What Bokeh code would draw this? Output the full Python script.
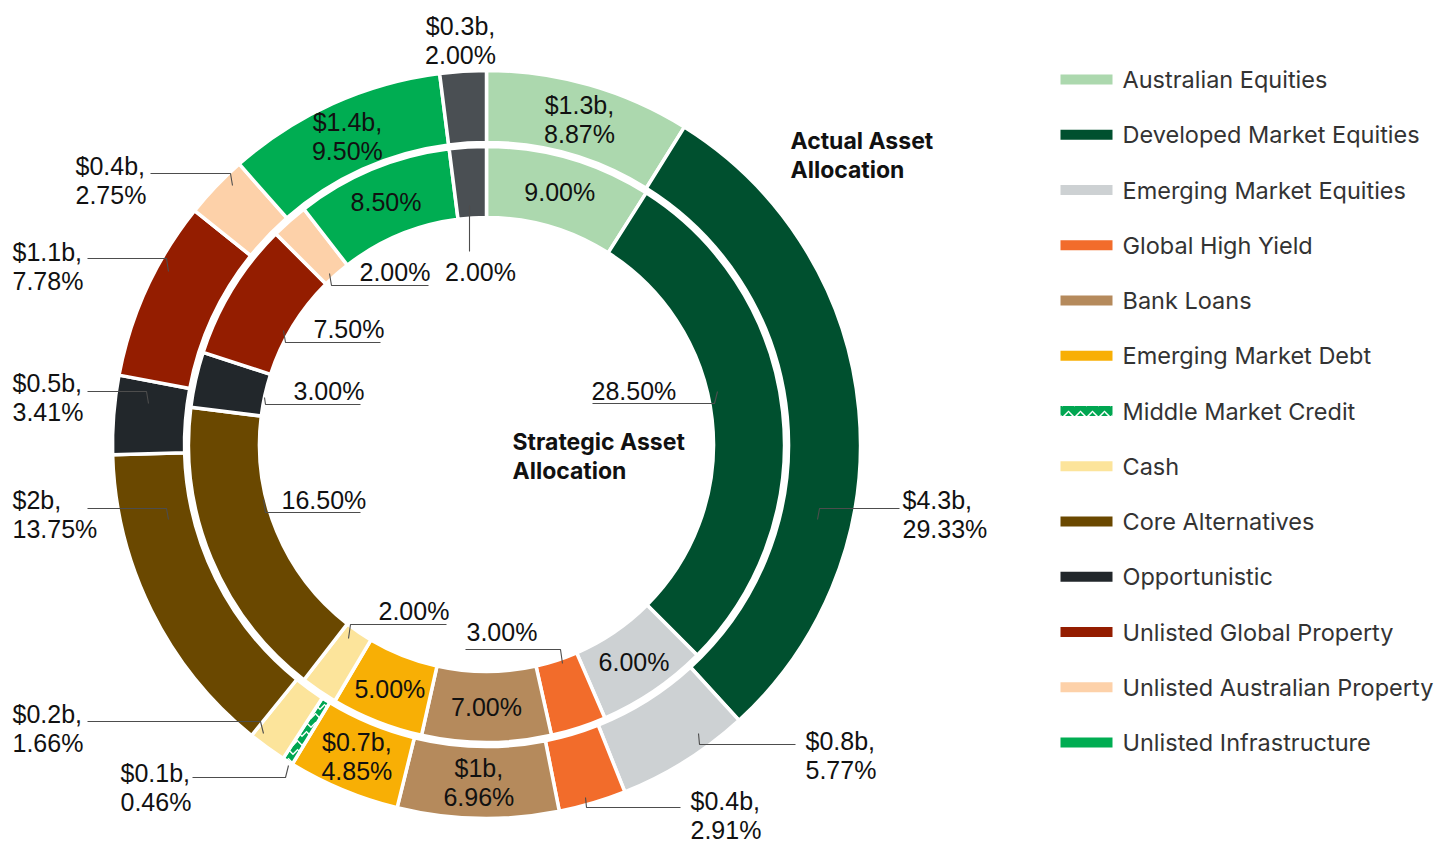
import math
from bokeh.plotting import figure
from bokeh.models import Range1d, ColumnDataSource
from bokeh.embed import file_html
from bokeh.resources import INLINE
from bokeh.core.properties import value

# ---------------- data ----------------
categories = ["Australian Equities", "Developed Market Equities", "Emerging Market Equities",
              "Global High Yield", "Bank Loans", "Emerging Market Debt", "Middle Market Credit",
              "Cash", "Core Alternatives", "Opportunistic", "Unlisted Global Property",
              "Unlisted Australian Property", "Unlisted Infrastructure", "Other"]
actual_pct = [8.87, 29.33, 5.77, 2.91, 6.96, 4.85, 0.46, 1.66, 13.75, 3.41, 7.78, 2.75, 9.50, 2.00]
actual_amt = ["$1.3b", "$4.3b", "$0.8b", "$0.4b", "$1b", "$0.7b", "$0.1b", "$0.2b", "$2b",
              "$0.5b", "$1.1b", "$0.4b", "$1.4b", "$0.3b"]
strategic_pct = [9.00, 28.50, 6.00, 3.00, 7.00, 5.00, 0.00, 2.00, 16.50, 3.00, 7.50, 2.00, 8.50, 2.00]
legend_items = categories[:13]

# ---------------- style ----------------
colors = ["#acd8ae", "#00502f", "#cdd1d3", "#f26c2b", "#b58a5c", "#f8af05", "#00a651",
          "#fce49b", "#6a4800", "#22272b", "#941d00", "#fdd1a9", "#00ad52", "#4a4f53"]
hatches = [" "] * 14
hatches[6] = "v"

W, H = 1454, 843
CX, CY = 486, 444
R_OUT = (302, 374)
R_IN = (227, 298)
LABEL_FONT = "Liberation Sans"
LABEL_SIZE = "25px"
LABEL_LH = 1.04
UI_FONT = "Inter"

def Y(py):
    return H - py

p = figure(width=W, height=H, output_backend="svg", toolbar_location=None,
           x_range=Range1d(0, W), y_range=Range1d(0, H), min_border=0)
p.axis.visible = False
p.grid.visible = False
p.outline_line_color = None
p.background_fill_color = "white"
p.border_fill_color = "white"

def ring_source(vals):
    cum = 0.0
    d = dict(start=[], end=[], color=[], hatch=[], idx=[])
    for i, v in enumerate(vals):
        a0 = math.pi / 2 - 2 * math.pi * cum / 100
        cum += v
        a1 = math.pi / 2 - 2 * math.pi * cum / 100
        if v <= 0:
            continue
        d["start"].append(a0); d["end"].append(a1)
        d["color"].append(colors[i]); d["hatch"].append(hatches[i])
        d["idx"].append(i)
    return d

for vals, (r0, r1) in ((actual_pct, R_OUT), (strategic_pct, R_IN)):
    src = ColumnDataSource(ring_source(vals))
    p.annular_wedge(x=CX, y=Y(CY), inner_radius=r0, outer_radius=r1,
                    start_angle="start", end_angle="end", direction="clock",
                    fill_color="color", line_color="white", line_width=3.5,
                    hatch_pattern="hatch", hatch_color="white", hatch_scale=9,
                    hatch_weight=1.5, source=src)

# ---------------- inside labels ----------------
inside_actual = [0, 4, 5, 12]
inside_strategic = [0, 2, 4, 5, 12]

def mid_angle(vals, i):
    cum = sum(vals[:i]) + vals[i] / 2
    return math.pi / 2 - 2 * math.pi * cum / 100

ix, iy, it = [], [], []
for i in inside_actual:
    a = mid_angle(actual_pct, i)
    r = sum(R_OUT) / 2
    ix.append(CX + r * math.cos(a)); iy.append(Y(CY) + r * math.sin(a))
    it.append(f"{actual_amt[i]},\n{actual_pct[i]:.2f}%")
for i in inside_strategic:
    a = mid_angle(strategic_pct, i)
    r = sum(R_IN) / 2
    ix.append(CX + r * math.cos(a)); iy.append(Y(CY) + r * math.sin(a))
    it.append(f"{strategic_pct[i]:.2f}%")
p.text(x=ix, y=iy, text=it, text_align="center", text_baseline="middle",
       text_font=value(LABEL_FONT), text_font_size=LABEL_SIZE, text_color="#111111",
       text_line_height=LABEL_LH)

# ---------------- outside labels with leaders (layout, pixel coords) ----------------
out_actual = {
    13: (460, 40, "center", []),
    1: (902, 514, "left", [(817, 519), (819, 508), (899, 508)]),
    2: (805, 755, "left", [(698, 733), (699, 744), (795, 744)]),
    3: (690, 815, "left", [(585, 797), (586, 807), (680, 807)]),
    6: (120, 787, "left", [(288, 765), (285, 777), (192, 777)]),
    7: (12, 728, "left", [(263, 733), (260, 721), (87, 721)]),
    8: (12, 514, "left", [(168, 519), (166, 508), (87, 508)]),
    9: (12, 397, "left", [(148, 403), (146, 391), (87, 391)]),
    10: (12, 266, "left", [(168, 271), (166, 258), (87, 258)]),
    11: (75, 180, "left", [(232, 185), (230, 173), (150, 173)]),
}
out_strategic = {
    1: (591, 390, "left", [(717, 391), (714, 403), (592, 403)]),
    3: (466, 631, "left", [(562, 663), (560, 649), (465, 649)]),
    7: (378, 610, "left", [(348, 638), (350, 624), (446, 624)]),
    8: (281, 499, "left", [(263, 499), (265, 512), (360, 512)]),
    9: (293, 390, "left", [(264, 397), (265, 404), (360, 404)]),
    10: (313, 328, "left", [(283, 330), (285, 342), (380, 342)]),
    11: (359, 271, "left", [(329, 273), (331, 285), (428, 285)]),
    13: (480, 271, "center", [(469, 205), (469, 251)]),
}

lx, ly = [], []
for spec_map in (out_actual, out_strategic):
    for k, (tx, ty, al, pts) in spec_map.items():
        if pts:
            lx.append([q[0] for q in pts]); ly.append([Y(q[1]) for q in pts])
p.multi_line(xs=lx, ys=ly, line_color="#4d4d4d", line_width=1.1)

for spec_map, is_actual in ((out_actual, True), (out_strategic, False)):
    for k, (tx, ty, al, pts) in spec_map.items():
        if is_actual:
            t = f"{actual_amt[k]},\n{actual_pct[k]:.2f}%"
        else:
            t = f"{strategic_pct[k]:.2f}%"
        p.text(x=[tx], y=[Y(ty)], text=[t], text_align=al, text_baseline="middle",
               text_font=value(LABEL_FONT), text_font_size=LABEL_SIZE, text_color="#111111",
               text_line_height=LABEL_LH)

# ---------------- ring titles ----------------
p.text(x=[790, 512], y=[Y(155), Y(456)],
       text=["Actual Asset\nAllocation", "Strategic Asset\nAllocation"],
       text_align="left", text_baseline="middle", text_font=value(UI_FONT),
       text_font_style="bold", text_font_size="23px", text_color="#111111",
       text_line_height=1.05)

# ---------------- legend ----------------
LEG_X, LEG_Y0, LEG_STEP = 1086, 79, 55.25
ly_ = [Y(LEG_Y0 + LEG_STEP * i) for i in range(len(legend_items))]
p.rect(x=[LEG_X] * len(legend_items), y=ly_, width=52, height=10,
       fill_color=colors[:13], line_color=None,
       hatch_pattern=hatches[:13], hatch_color="white", hatch_scale=12, hatch_weight=1.5)
p.text(x=[1122] * len(legend_items), y=ly_, text=legend_items, text_align="left",
       text_baseline="middle", text_font=value(UI_FONT), text_font_size="23.5px",
       text_color="#333333")

open("out.html", "w").write(file_html(p, INLINE))
